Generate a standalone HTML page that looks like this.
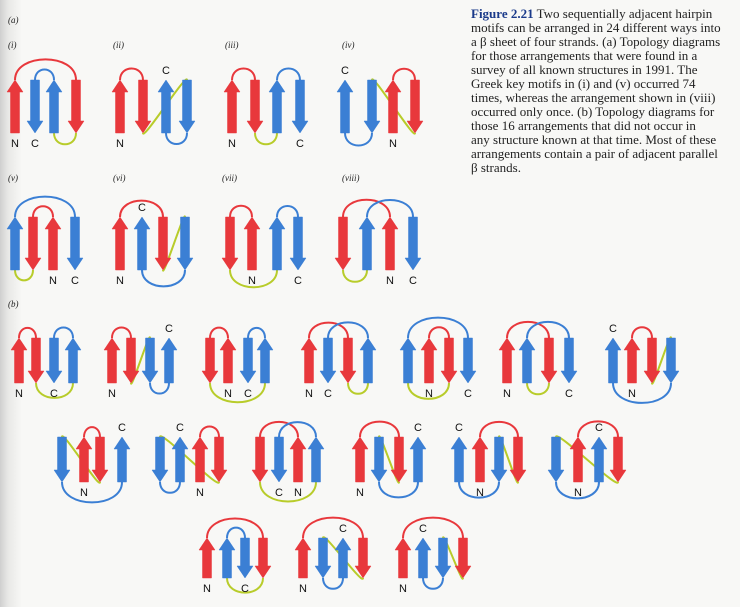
<!DOCTYPE html>
<html><head><meta charset="utf-8">
<style>
html,body{margin:0;padding:0;width:740px;height:607px;overflow:hidden;background:#f8f8f6}
#bg{position:absolute;left:0;top:0;width:740px;height:607px;background:linear-gradient(90deg,#cfcfcf 0,#e8e8e6 8px,#f8f8f6 22px)}
svg{position:absolute;left:0;top:0}
.cap{position:absolute;left:471px;top:7px;width:269px;font-family:"Liberation Serif",serif;font-size:13px;line-height:14px;color:#222;white-space:nowrap}
.cap b{color:#1a3a8a}
</style></head><body>
<div id="bg"></div>
<div class="cap"><b>Figure 2.21</b> Two sequentially adjacent hairpin<br>motifs can be arranged in 24 different ways into<br>a β sheet of four strands. (a) Topology diagrams<br>for those arrangements that were found in a<br>survey of all known structures in 1991. The<br>Greek key motifs in (i) and (v) occurred 74<br>times, whereas the arrangement shown in (viii)<br>occurred only once. (b) Topology diagrams for<br>those 16 arrangements that did not occur in<br>any structure known at that time. Most of these<br>arrangements contain a pair of adjacent parallel<br>β strands.</div>
<svg id="s" width="740" height="607" xmlns="http://www.w3.org/2000/svg" font-family="Liberation Serif, serif">
<g font-style="italic" font-size="9" fill="#222">
<text x="8" y="23">(a)</text>
<text x="8" y="48">(i)</text><text x="113" y="48">(ii)</text><text x="225" y="48">(iii)</text><text x="342" y="48">(iv)</text>
<text x="8" y="181">(v)</text><text x="113" y="181">(vi)</text><text x="222" y="181">(vii)</text><text x="342" y="181">(viii)</text>
<text x="8" y="307">(b)</text>
</g>
</svg>
<script>
var S=document.getElementById('s'),NS='http://www.w3.org/2000/svg';
function el(t,a){var e=document.createElementNS(NS,t);for(var k in a)e.setAttribute(k,a[k]);S.appendChild(e);return e;}
var RED='#e8383c',BLUE='#3b7fd4',YEL='#b8cc2a';
function D(xs,top,bot,chain){
  var lines=[];
  function X(i){return xs[chain[i][0]];}
  function endY(i){return chain[i][1]>0?top:bot;}
  function startY(i){return chain[i][1]>0?bot:top;}
  for(var i=0;i<3;i++){
    var x1=X(i),y1=endY(i),x2=X(i+1),y2=startY(i+1);
    var col=i==1?YEL:(i==0?RED:BLUE),d;
    if(y1==y2){var s=y1==top?-1:1,h=8+0.32*Math.abs(x2-x1);
      d='M'+x1+','+y1+' C'+x1+','+(y1+s*h)+' '+x2+','+(y2+s*h)+' '+x2+','+y2;}
    else{var s1=y1==top?-1:1;
      d='M'+x1+','+y1+' C'+x1+','+(y1+s1*8)+' '+x2+','+(y2-s1*8)+' '+x2+','+y2;}
    lines.push([d,col]);
  }
  lines.forEach(function(l){el('path',{d:l[0],fill:'none',stroke:l[1],'stroke-width':2});});
  for(var i=0;i<4;i++){
    var x=X(i),col=i<2?RED:BLUE,u=chain[i][1]>0,hl=12,p;
    if(u)p=[[x-8,top+hl],[x,top],[x+8,top+hl],[x+4.5,top+hl],[x+4.5,bot],[x-4.5,bot],[x-4.5,top+hl]];
    else p=[[x-8,bot-hl],[x,bot],[x+8,bot-hl],[x+4.5,bot-hl],[x+4.5,top],[x-4.5,top],[x-4.5,bot-hl]];
    el('polygon',{points:p.map(function(q){return q.join(',')}).join(' '),fill:col,stroke:col,'stroke-width':0.5});
  }
  function lab(t,x,y){var e=el('text',{x:x,y:y,'font-family':'Liberation Sans, sans-serif','font-size':11,fill:'#111','text-anchor':'middle'});e.textContent=t;}
  var nx=X(0),ny=chain[0][1]>0?bot+14:top-6;
  var cx=X(3),cy=chain[3][1]>0?top-6:bot+14;
  lab('N',nx,ny);lab('C',cx,cy);
}
var U=1,Dn=-1;
D([15,35,54,76],80,133,[[0,U],[3,Dn],[2,U],[1,Dn]]);
D([120,143,166,187],80,133,[[0,U],[1,Dn],[3,Dn],[2,U]]);
D([232,255,277,300],80,133,[[0,U],[1,Dn],[2,U],[3,Dn]]);
D([345,372,393,415],80,133,[[2,U],[3,Dn],[1,Dn],[0,U]]);
D([15,33,53,75],217,270,[[2,U],[1,Dn],[0,U],[3,Dn]]);
D([120,142,163,185],217,270,[[0,U],[2,Dn],[3,Dn],[1,U]]);
D([230,252,277,298],217,270,[[1,U],[0,Dn],[2,U],[3,Dn]]);
D([343,367,390,413],217,270,[[2,U],[0,Dn],[1,U],[3,Dn]]);
var t=338,b=383;
D([19,36,54,73],t,b,[[0,U],[1,Dn],[3,U],[2,Dn]]);
D([112,131,150,169],t,b,[[0,U],[1,Dn],[2,Dn],[3,U]]);
D([210,228,248,265],t,b,[[1,U],[0,Dn],[3,U],[2,Dn]]);
D([309,328,348,368],t,b,[[0,U],[2,Dn],[3,U],[1,Dn]]);
D([408,429,449,468],t,b,[[1,U],[2,Dn],[0,U],[3,Dn]]);
D([507,527,549,569],t,b,[[0,U],[2,Dn],[1,U],[3,Dn]]);
D([613,632,652,671],t,b,[[1,U],[2,Dn],[3,Dn],[0,U]]);
t=437;b=482;
D([62,84,100,122],t,b,[[1,U],[2,Dn],[0,Dn],[3,U]]);
D([160,180,200,219],t,b,[[2,U],[3,Dn],[0,Dn],[1,U]]);
D([260,279,298,316],t,b,[[2,U],[0,Dn],[3,U],[1,Dn]]);
D([360,379,399,418],t,b,[[0,U],[2,Dn],[1,Dn],[3,U]]);
D([459,480,499,518],t,b,[[1,U],[3,Dn],[2,Dn],[0,U]]);
D([556,578,599,618],t,b,[[1,U],[3,Dn],[0,Dn],[2,U]]);
t=538;b=578;
D([207,227,245,263],t,b,[[0,U],[3,Dn],[1,U],[2,Dn]]);
D([303,323,343,363],t,b,[[0,U],[3,Dn],[1,Dn],[2,U]]);
D([403,423,443,463],t,b,[[0,U],[3,Dn],[2,Dn],[1,U]]);
</script>
</body></html>
